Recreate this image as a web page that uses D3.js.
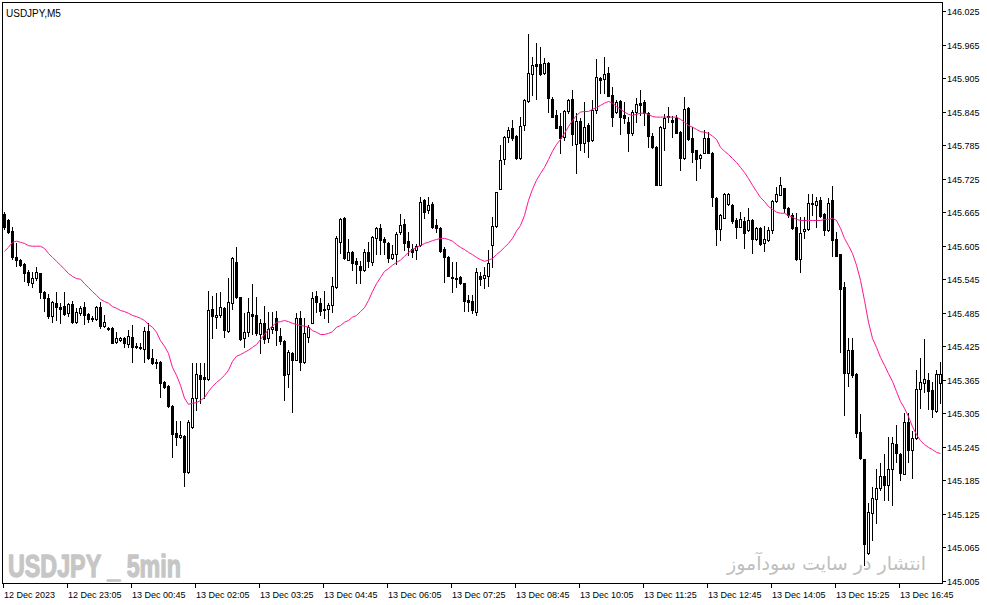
<!DOCTYPE html>
<html><head><meta charset="utf-8">
<script src="https://cdn.jsdelivr.net/npm/d3@7"></script>
<style>body{margin:0;background:#fff}svg{display:block}</style>
</head><body>
<svg id="c" width="987" height="605"></svg>
<script>
const symbolLabel = "USDJPY,M5";
const watermarkLeft = "USDJPY _ 5min";
const watermarkRight = "انتشار در سایت سودآموز";

const timeTickIndex = [0,16,32,48,64,80,96,112,128,144,160,176,192,208,224];
const timeTickLabels = ["12 Dec 2023","12 Dec 23:05","13 Dec 00:45","13 Dec 02:05","13 Dec 03:25","13 Dec 04:45","13 Dec 06:05","13 Dec 07:25","13 Dec 08:45","13 Dec 10:05","13 Dec 11:25","13 Dec 12:45","13 Dec 14:05","13 Dec 15:25","13 Dec 16:45"];
const priceTicks = [146.025,145.965,145.905,145.845,145.785,145.725,145.665,145.605,145.545,145.485,145.425,145.365,145.305,145.245,145.185,145.125,145.065,145.005];

const open = [
145.662,145.651,145.632,145.585,145.580,145.572,145.558,145.538,145.547,145.556,
145.522,145.512,145.479,145.503,145.495,145.497,145.485,145.501,145.469,145.485,
145.495,145.483,145.476,145.474,145.495,145.462,145.458,145.458,145.433,145.436,
145.440,145.429,145.442,145.426,145.424,145.420,145.452,145.404,145.397,145.397,
145.361,145.354,145.318,145.270,145.263,145.264,145.200,145.281,145.333,145.374,
145.370,145.367,145.492,145.477,145.481,145.494,145.452,145.503,145.576,145.513,
145.440,145.451,145.483,145.481,145.447,145.467,145.440,145.456,145.476,145.443,
145.435,145.376,145.413,145.401,145.476,145.397,145.442,145.467,145.515,145.503,
145.492,145.492,145.499,145.531,145.612,145.655,145.580,145.594,145.578,145.569,
145.562,145.594,145.576,145.619,145.637,145.617,145.610,145.583,145.590,145.630,
145.644,145.614,145.599,145.598,145.606,145.687,145.669,145.680,145.642,145.637,
145.599,145.585,145.549,145.548,145.549,145.538,145.508,145.506,145.486,145.551,
145.547,145.551,145.606,145.640,145.707,145.760,145.800,145.816,145.802,145.762,
145.821,145.864,145.913,145.930,145.930,145.914,145.932,145.868,145.839,145.819,
145.800,145.846,145.868,145.787,145.828,145.789,145.821,145.794,145.848,145.905,
145.904,145.914,145.875,145.845,145.864,145.839,145.827,145.807,145.845,145.861,
145.862,145.843,145.802,145.782,145.714,145.816,145.837,145.830,145.834,145.809,
145.762,145.852,145.798,145.776,145.762,145.771,145.798,145.771,145.691,145.635,
145.655,145.680,145.678,145.651,145.639,145.649,145.633,145.651,145.617,145.637,
145.610,145.615,145.633,145.685,145.696,145.708,145.673,145.660,145.639,145.581,
145.631,145.635,145.680,145.678,145.687,145.662,145.633,145.687,145.617,145.590,
145.531,145.377,145.419,145.376,145.272,145.223,145.055,145.127,145.152,145.171,
145.193,145.177,145.205,145.250,145.232,145.197,145.290,145.240,145.261,145.349,
145.359,145.365,145.347,145.309,145.359];

const high = [
145.666,145.653,145.639,145.610,145.581,145.574,145.562,145.558,145.567,145.557,
145.524,145.519,145.506,145.522,145.503,145.522,145.503,145.506,145.494,145.497,
145.504,145.485,145.479,145.497,145.504,145.481,145.459,145.459,145.451,145.441,
145.441,145.454,145.463,145.431,145.431,145.460,145.467,145.420,145.402,145.399,
145.363,145.356,145.320,145.291,145.291,145.266,145.293,145.395,145.395,145.395,
145.395,145.524,145.515,145.520,145.522,145.495,145.547,145.584,145.603,145.514,
145.485,145.512,145.537,145.513,145.474,145.497,145.486,145.486,145.488,145.458,
145.436,145.419,145.414,145.485,145.488,145.476,145.463,145.522,145.524,145.512,
145.524,145.503,145.549,145.623,145.655,145.656,145.617,145.595,145.583,145.578,
145.599,145.612,145.623,145.638,145.644,145.621,145.612,145.606,145.630,145.662,
145.653,145.630,145.608,145.608,145.692,145.688,145.692,145.683,145.653,145.638,
145.603,145.586,145.576,145.576,145.550,145.539,145.517,145.517,145.565,145.558,
145.567,145.598,145.657,145.702,145.785,145.801,145.818,145.830,145.803,145.836,
145.867,145.984,145.943,145.968,145.961,145.941,145.933,145.871,145.848,145.843,
145.847,145.867,145.884,145.843,145.834,145.862,145.825,145.866,145.939,145.906,
145.943,145.925,145.889,145.866,145.866,145.862,145.836,145.848,145.870,145.884,
145.866,145.844,145.807,145.783,145.819,145.841,145.853,145.837,145.839,145.810,
145.871,145.853,145.818,145.777,145.769,145.812,145.809,145.772,145.692,145.661,
145.700,145.700,145.679,145.655,145.666,145.657,145.673,145.652,145.638,145.639,
145.640,145.639,145.686,145.710,145.728,145.709,145.674,145.664,145.664,145.657,
145.657,145.698,145.698,145.692,145.692,145.663,145.691,145.712,145.630,145.591,
145.540,145.440,145.440,145.377,145.304,145.224,145.145,145.173,145.205,145.216,
145.232,145.263,145.263,145.284,145.234,145.306,145.306,145.274,145.383,145.404,
145.438,145.377,145.361,145.383,145.397];

const low = [
145.635,145.628,145.581,145.569,145.569,145.542,145.535,145.531,145.544,145.512,
145.488,145.476,145.469,145.472,145.467,145.481,145.479,145.467,145.467,145.481,
145.465,145.469,145.470,145.472,145.458,145.460,145.455,145.430,145.431,145.435,
145.424,145.424,145.397,145.422,145.420,145.397,145.402,145.394,145.386,145.334,
145.350,145.317,145.227,145.249,145.261,145.175,145.198,145.279,145.311,145.324,
145.333,145.365,145.440,145.458,145.477,145.442,145.451,145.492,145.512,145.436,
145.424,145.443,145.447,145.445,145.413,145.431,145.433,145.449,145.427,145.429,
145.329,145.352,145.308,145.400,145.383,145.395,145.433,145.466,145.486,145.481,
145.476,145.469,145.486,145.530,145.592,145.582,145.579,145.562,145.538,145.538,
145.560,145.567,145.571,145.590,145.590,145.590,145.576,145.581,145.572,145.626,
145.598,145.589,145.585,145.581,145.605,145.655,145.664,145.637,145.630,145.594,
145.540,145.550,145.522,145.531,145.537,145.488,145.488,145.485,145.481,145.535,
145.529,145.533,145.567,145.639,145.706,145.751,145.791,145.794,145.760,145.761,
145.812,145.863,145.875,145.868,145.911,145.913,145.845,145.835,145.815,145.771,
145.794,145.843,145.785,145.735,145.777,145.773,145.764,145.793,145.843,145.879,
145.879,145.872,145.819,145.843,145.805,145.825,145.775,145.803,145.827,145.839,
145.821,145.782,145.780,145.713,145.713,145.776,145.827,145.800,145.806,145.741,
145.761,145.794,145.755,145.723,145.744,145.770,145.770,145.676,145.606,145.615,
145.654,145.678,145.646,145.619,145.638,145.601,145.632,145.592,145.615,145.606,
145.596,145.613,145.628,145.684,145.695,145.666,145.657,145.635,145.580,145.558,
145.619,145.634,145.660,145.639,145.657,145.624,145.632,145.587,145.586,145.415,
145.302,145.354,145.370,145.263,145.224,145.034,145.054,145.078,145.109,145.168,
145.150,145.150,145.141,145.218,145.186,145.196,145.218,145.189,145.260,145.315,
145.343,145.313,145.299,145.308,145.324];

const close = [
145.639,145.630,145.585,145.580,145.571,145.556,145.540,145.547,145.558,145.522,
145.512,145.479,145.504,145.495,145.492,145.483,145.501,145.469,145.486,145.494,
145.481,145.474,145.474,145.495,145.462,145.469,145.456,145.431,145.440,145.440,
145.431,145.443,145.424,145.424,145.422,145.452,145.404,145.395,145.395,145.359,
145.352,145.318,145.268,145.263,145.266,145.200,145.290,145.333,145.376,145.367,
145.367,145.490,145.479,145.481,145.495,145.454,145.504,145.583,145.513,145.438,
145.451,145.486,145.479,145.449,145.467,145.438,145.456,145.460,145.454,145.435,
145.374,145.415,145.401,145.476,145.397,145.449,145.460,145.512,145.504,145.488,
145.490,145.499,145.533,145.619,145.653,145.583,145.594,145.574,145.572,145.562,
145.594,145.578,145.621,145.637,145.615,145.612,145.583,145.590,145.626,145.642,
145.610,145.603,145.594,145.605,145.683,145.666,145.678,145.639,145.637,145.596,
145.585,145.551,145.547,145.546,145.538,145.506,145.504,145.490,145.558,145.546,
145.553,145.574,145.640,145.701,145.759,145.800,145.812,145.798,145.762,145.819,
145.866,145.914,145.929,145.927,145.913,145.932,145.870,145.836,145.816,145.798,
145.846,145.866,145.805,145.828,145.789,145.818,145.793,145.848,145.907,145.902,
145.913,145.873,145.836,145.862,145.836,145.834,145.807,145.845,145.859,145.857,
145.843,145.802,145.782,145.714,145.818,145.834,145.835,145.827,145.807,145.762,
145.850,145.796,145.773,145.760,145.768,145.798,145.771,145.692,145.635,145.660,
145.698,145.698,145.649,145.639,145.653,145.628,145.651,145.617,145.637,145.608,
145.617,145.633,145.685,145.698,145.714,145.673,145.660,145.637,145.581,145.628,
145.635,145.682,145.682,145.685,145.658,145.633,145.682,145.615,145.587,145.528,
145.377,145.419,145.374,145.270,145.225,145.071,145.129,145.154,145.171,145.193,
145.177,145.205,145.252,145.234,145.198,145.290,145.240,145.261,145.349,145.361,
145.367,145.345,145.313,145.376,145.376];

const ma = [
145.596,145.603,145.612,145.614,145.612,145.610,145.606,145.605,145.605,145.605,
145.601,145.592,145.585,145.578,145.571,145.564,145.556,145.551,145.547,145.546,
145.538,145.531,145.524,145.517,145.510,145.506,145.503,145.497,145.494,145.490,
145.488,145.485,145.481,145.479,145.476,145.472,145.465,145.460,145.451,145.436,
145.426,145.413,145.388,145.374,145.356,145.333,145.322,145.324,145.325,145.329,
145.334,145.345,145.354,145.361,145.367,145.374,145.383,145.399,145.408,145.411,
145.415,145.419,145.424,145.429,145.438,145.447,145.456,145.462,145.469,145.470,
145.472,145.470,145.467,145.465,145.463,145.462,145.460,145.454,145.451,145.447,
145.447,145.449,145.452,145.460,145.463,145.469,145.472,145.478,145.481,145.488,
145.495,145.508,145.524,145.538,145.549,145.560,145.565,145.571,145.576,145.580,
145.587,145.594,145.599,145.603,145.606,145.610,145.612,145.615,145.617,145.619,
145.619,145.617,145.614,145.608,145.603,145.599,145.594,145.590,145.585,145.581,
145.578,145.580,145.583,145.590,145.596,145.603,145.610,145.619,145.632,145.642,
145.660,145.687,145.707,145.723,145.735,145.746,145.760,145.775,145.787,145.796,
145.807,145.819,145.830,145.839,145.845,145.846,145.846,145.850,145.853,145.857,
145.861,145.864,145.861,145.855,145.850,145.845,145.841,145.839,145.841,145.843,
145.843,145.841,145.837,145.836,145.836,145.836,145.836,145.836,145.836,145.832,
145.827,145.821,145.818,145.814,145.810,145.809,145.807,145.802,145.796,145.782,
145.775,145.769,145.762,145.755,145.746,145.737,145.726,145.714,145.703,145.692,
145.685,145.676,145.671,145.666,145.664,145.664,145.660,145.657,145.653,145.651,
145.651,145.651,145.651,145.651,145.651,145.653,145.653,145.655,145.651,145.637,
145.619,145.606,145.592,145.571,145.544,145.508,145.469,145.440,145.424,145.406,
145.392,145.377,145.363,145.345,145.327,145.315,145.300,145.282,145.268,145.257,
145.250,145.245,145.241,145.236,145.234];

const N = close.length;
const svg = d3.select("#c");
const frameL = 2, frameT = 2, frameR = 942, frameB = 583;

const x = d3.scaleLinear().domain([0, 234]).range([4, 940]);
const y = d3.scaleLinear().domain([145.005, 146.025]).range([581, 11]);

const axisFont = "'Liberation Sans', Arial, sans-serif";

// watermarks (behind)
svg.append("text").attr("x", 8).attr("y", 577)
  .attr("font-family", "'Liberation Sans', Arial, sans-serif").attr("font-weight", "bold")
  .attr("font-size", 31).attr("fill", "#c6c6c6")
  .attr("stroke", "#c6c6c6").attr("stroke-width", 1.3).attr("stroke-linejoin", "round")
  .attr("textLength", 173).attr("lengthAdjust", "spacingAndGlyphs")
  .text(watermarkLeft);
svg.append("text").attr("x", 926).attr("y", 570).attr("text-anchor", "end")
  .attr("font-family", "'DejaVu Sans', sans-serif")
  .attr("font-size", 19).attr("fill", "#bfbfbf")
  .attr("textLength", 199).attr("lengthAdjust", "spacingAndGlyphs")
  .text(watermarkRight);

// frame
svg.append("rect").attr("x", frameL + 0.5).attr("y", frameT + 0.5)
  .attr("width", frameR - frameL).attr("height", frameB - frameT)
  .attr("fill", "none").attr("stroke", "#000").attr("shape-rendering", "crispEdges");

svg.append("text").attr("x", 6).attr("y", 16.5)
  .attr("font-family", axisFont).attr("font-size", 10).attr("fill", "#000")
  .text(symbolLabel);

// candles
const g = svg.append("g").attr("shape-rendering", "crispEdges");
d3.range(N).forEach(i => {
  const cx = Math.round(x(i));
  const hy = Math.round(y(high[i])), ly = Math.round(y(low[i]));
  const bull = close[i] > open[i];
  const ty = Math.round(y(Math.max(open[i], close[i])));
  const by = Math.round(y(Math.min(open[i], close[i])));
  g.append("line").attr("x1", cx + 0.5).attr("x2", cx + 0.5)
    .attr("y1", Math.min(hy, ty)).attr("y2", Math.max(ly, by) + 1)
    .attr("stroke", "#000").attr("stroke-width", 1);
  if (bull && by - ty >= 2) {
    g.append("rect").attr("x", cx - 0.5).attr("y", ty + 0.5)
      .attr("width", 2).attr("height", by - ty)
      .attr("fill", "#fff").attr("stroke", "#000").attr("stroke-width", 1);
  } else {
    g.append("rect").attr("x", cx - 1).attr("y", ty)
      .attr("width", 3).attr("height", Math.max(1, by - ty + 1))
      .attr("fill", "#000");
  }
});

// moving average
const line = d3.line().x((d, i) => x(i) + 0.5).y(d => y(d) + 0.5);
svg.append("path").datum(ma).attr("d", line)
  .attr("fill", "none").attr("stroke", "#ff1493").attr("stroke-width", 1);

// price axis
const pa = svg.append("g");
priceTicks.forEach(p => {
  const yy = Math.round(y(p));
  pa.append("line").attr("x1", frameR).attr("x2", frameR + 4)
    .attr("y1", yy + 0.5).attr("y2", yy + 0.5).attr("stroke", "#000").attr("shape-rendering", "crispEdges");
  pa.append("text").attr("x", frameR + 5).attr("y", yy + 3.5)
    .attr("font-family", axisFont).attr("font-size", 9).attr("fill", "#000")
    .text(d3.format(".3f")(p));
});
const cy = Math.round(y(close[N - 1]));
pa.append("line").attr("x1", frameR - 4).attr("x2", frameR)
  .attr("y1", cy + 0.5).attr("y2", cy + 0.5).attr("stroke", "#000").attr("shape-rendering", "crispEdges");

// time axis
const ta = svg.append("g");
timeTickIndex.forEach((ti, k) => {
  const xx = Math.round(x(ti)) - 1;
  ta.append("line").attr("x1", xx + 0.5).attr("x2", xx + 0.5)
    .attr("y1", frameB).attr("y2", frameB + 5).attr("stroke", "#000").attr("shape-rendering", "crispEdges");
  ta.append("text").attr("x", k === 0 ? 4 : xx + 1).attr("y", 597.5)
    .attr("font-family", axisFont).attr("font-size", 9).attr("fill", "#000")
    .text(timeTickLabels[k]);
});
</script>
</body></html>
